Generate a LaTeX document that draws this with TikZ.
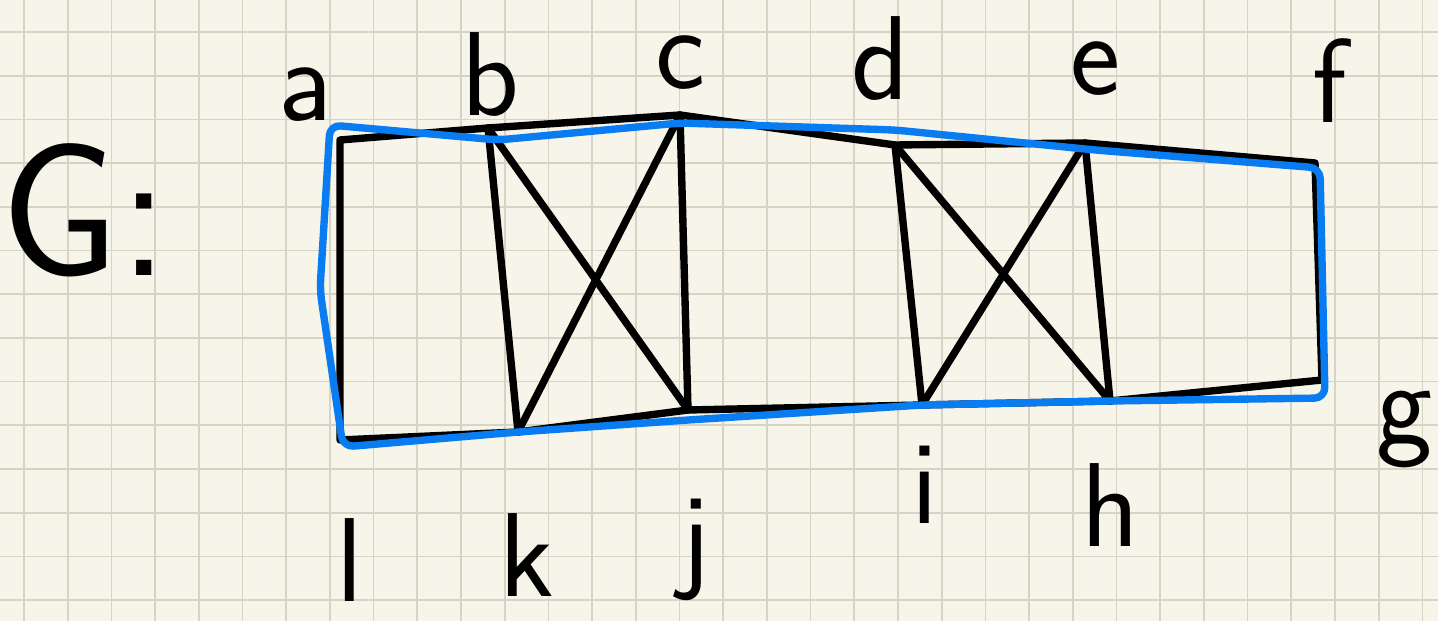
\documentclass[tikz,border=0pt]{standalone}
\usepackage{xcolor}
\usepackage{tikz}
\usetikzlibrary{calc}
\definecolor{paper}{HTML}{F7F5E9}
\definecolor{gridln}{HTML}{D6D4C6}
\definecolor{pen}{HTML}{0A7CF2}
\tikzset{
  vtx/.style={coordinate},
  edge/.style={line width=2.1pt, line cap=round, line join=round},
  ham/.style={draw=pen, line width=2.1pt, line cap=round, line join=round, rounded corners=3pt},
  lbl/.style={font=\sffamily\fontsize{34}{40}\selectfont, inner sep=0pt}
}

\begin{document}
\begin{tikzpicture}
  % paper and grid
  \useasboundingbox[fill=paper] (0,0) rectangle (14.38,6.21);
  \foreach \i in {0,...,32}
    \draw[gridln, line width=0.5pt] ({0.24+0.437*\i},0) -- ({0.24+0.437*\i},6.21);
  \foreach \i in {0,...,13}
    \draw[gridln, line width=0.5pt] (0,{5.89-0.437*\i}) -- (14.38,{5.89-0.437*\i});

  % vertices
  \node[vtx] (a) at (3.40,4.81) {};
  \node[vtx] (b) at (4.88,4.93) {};
  \node[vtx] (c) at (6.80,5.06) {};
  \node[vtx] (d) at (8.95,4.76) {};
  \node[vtx] (e) at (10.85,4.78) {};
  \node[vtx] (f) at (13.15,4.58) {};
  \node[vtx] (g) at (13.22,2.41) {};
  \node[vtx] (h) at (11.10,2.20) {};
  \node[vtx] (i) at (9.22,2.16) {};
  \node[vtx] (j) at (6.88,2.11) {};
  \node[vtx] (k) at (5.18,1.89) {};
  \node[vtx] (l) at (3.40,1.81) {};

  % labels
  \node[lbl, font=\sffamily\fontsize{54}{60}\selectfont] (gname) at (0.85,4.11) {G:};
  \node[lbl] (ta) at (3.05,5.26) {a};
  \node[lbl] (tb) at (4.90,5.46) {b};
  \node[lbl] (tc) at (6.80,5.58) {c};
  \node[lbl] (td) at (8.80,5.62) {d};
  \node[lbl] (te) at (10.95,5.52) {e};
  \node[lbl] (tf) at (13.30,5.40) {f};
  \node[lbl] (tg) at (14.05,1.91) {g};
  \node[lbl] (th) at (11.10,1.16) {h};
  \node[lbl] (ti) at (9.25,1.36) {i};
  \node[lbl] (tj) at (6.95,0.71) {j};
  \node[lbl] (tk) at (5.27,0.66) {k};
  \node[lbl] (tl) at (3.50,0.61) {l};

  % edges
  \draw[edge] (a) -- (b) -- (c) -- (d) -- (e) -- (f) -- (g) -- (h) -- (i) -- (j) -- (k) -- (l) -- (a);
  \draw[edge] (b) -- (k);
  \draw[edge] (c) -- (j);
  \draw[edge] (b) -- (j);
  \draw[edge] (k) -- (c);
  \draw[edge] (d) -- (i);
  \draw[edge] (e) -- (h);
  \draw[edge] (d) -- (h);
  \draw[edge] (i) -- (e);

  % hamiltonian cycle
  \draw[ham] ([shift={(-0.10,0.15)}]a) -- ([shift={(0.10,-0.12)}]b) -- ([shift={(0,-0.08)}]c)
    -- ([shift={(0,0.15)}]d) -- ([shift={(0.10,-0.07)}]e) -- ([shift={(0.05,-0.05)}]f)
    -- ([shift={(0.03,-0.18)}]g) -- (h) -- (i) -- ([shift={(0,-0.10)}]j) -- (k)
    -- ([shift={(0.03,-0.07)}]l) -- ([shift={(-0.20,0)}]$(a)!0.5!(l)$) -- cycle;
\end{tikzpicture}
\end{document}
